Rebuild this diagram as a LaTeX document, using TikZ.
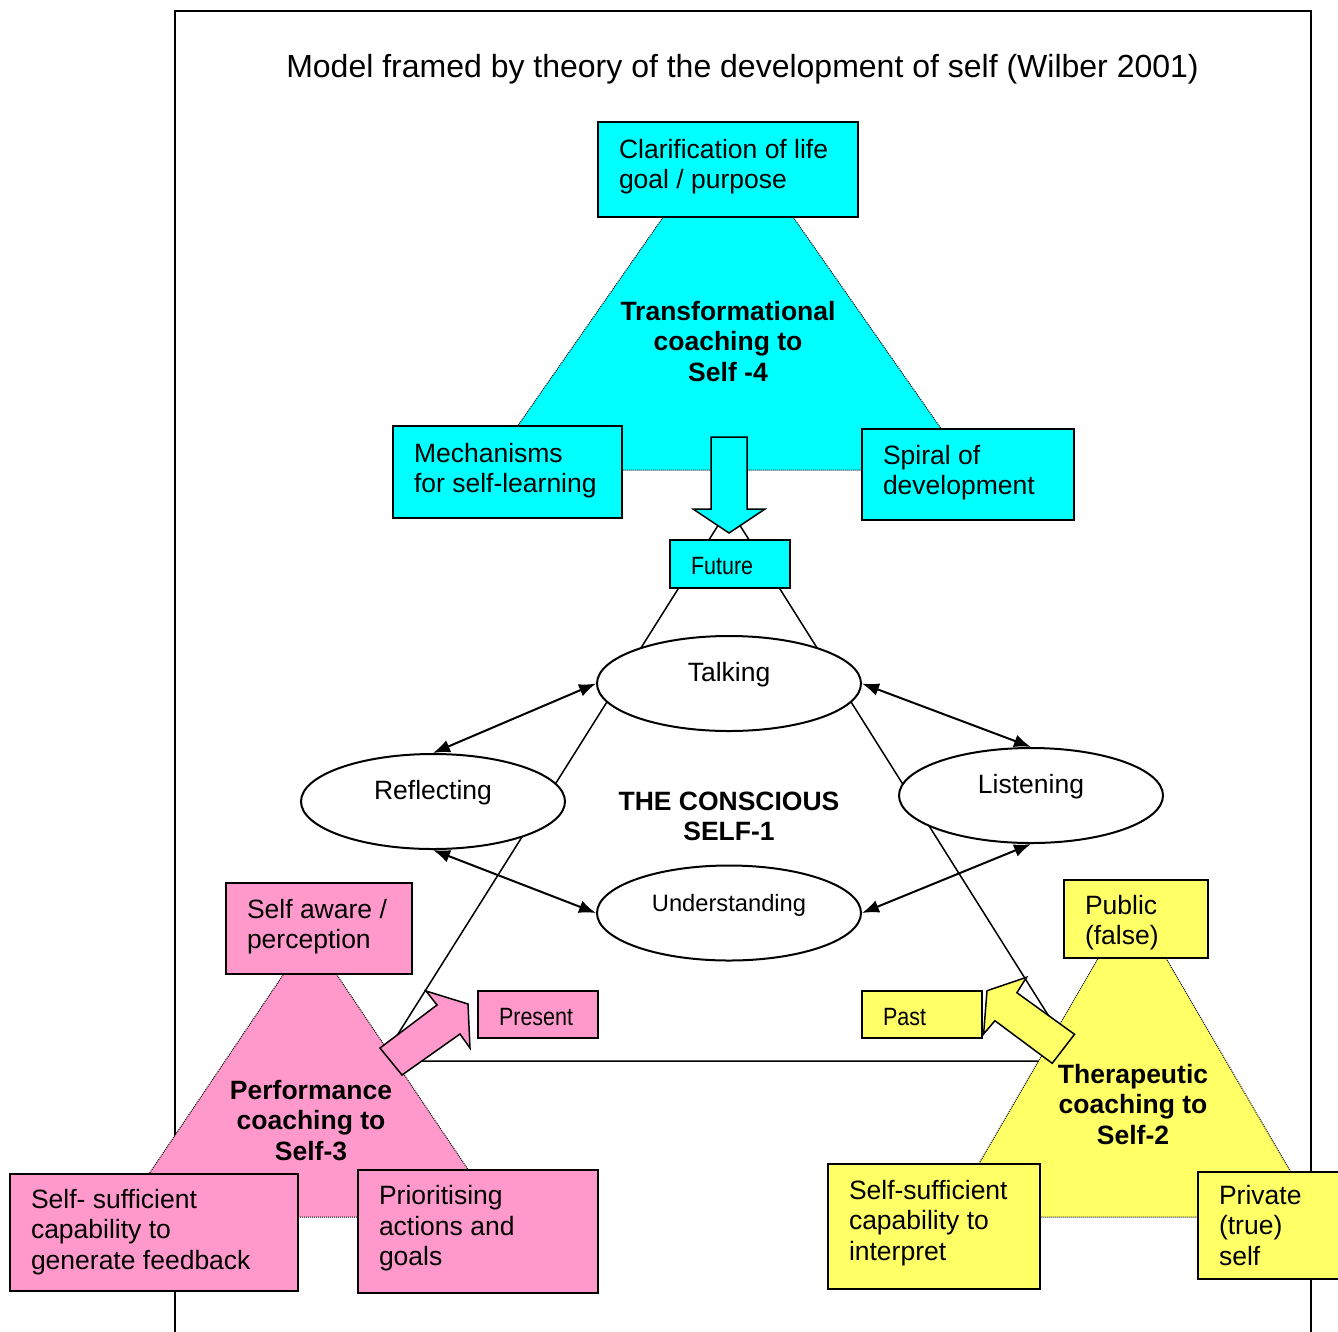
\documentclass[tikz,border=0pt]{standalone}
\usepackage{fontspec}
\setmainfont{Liberation Sans}
\newfontfamily\narrowfont[FakeStretch=0.86]{Liberation Sans}
\usetikzlibrary{shapes.geometric,arrows.meta}
\definecolor{cy}{RGB}{0,255,255}
\definecolor{pk}{RGB}{255,153,204}
\definecolor{yl}{RGB}{255,255,102}
% box text: [first-baseline offset]{box height}{text width}{text}
\newcommand{\bt}[4][35pt]{\parbox[c][#2][t]{#3}{\rule{0pt}{#1}#4}}
\tikzset{
  txt/.style={font=\fontsize{26.5pt}{30.5pt}\selectfont},
  box/.style={draw, line width=2pt, txt, inner xsep=21pt, inner ysep=0pt, anchor=north west},
  nbox/.style={box, font=\narrowfont\fontsize{25pt}{29pt}\selectfont},
  ell/.style={draw, ellipse, line width=2pt, fill=white, minimum width=264pt, minimum height=95pt, inner sep=0pt, txt, text height=8pt, text depth=12pt},
  boldtxt/.style={font=\bfseries\fontsize{26.5pt}{30.5pt}\selectfont, align=center, inner sep=0pt},
  tri/.style={line width=1pt, dash pattern=on 1pt off 1pt},
  bigtri/.style={line width=1.5pt, line join=miter},
  dbl/.style={{Latex[length=17pt,width=13pt]}-{Latex[length=17pt,width=13pt]}, line width=2pt},
  blk/.style={line width=1.5pt, line join=miter},
}
\begin{document}
\begin{tikzpicture}[x=1pt,y=-1pt]
\useasboundingbox (0,0) rectangle (1338,1331);
% frame
\draw[line width=2pt] (175,1345) -- (175,11) -- (1311,11) -- (1311,1345);
% title
\node[font=\fontsize{32pt}{38pt}\selectfont, inner sep=0pt] (title) at (742.5,69) {Model framed by theory of the development of self (Wilber 2001)};
% big triangle
\draw[bigtri] (729,508) -- (381,1061) -- (1077,1061) -- cycle;
% coloured triangles
\draw[tri, fill=cy] (728,124) -- (487,470) -- (970,470) -- cycle;
\draw[tri, fill=pk] (310,935) -- (120,1217) -- (500,1217) -- cycle;
\draw[tri, fill=yl] (1132,900) -- (948,1217) -- (1317,1217) -- cycle;
% ellipses
\node[ell] (talk) at (729,683.5) {Talking};
\node[ell] (refl) at (433,801.5) {Reflecting};
\node[ell] (list) at (1031,795.5) {Listening};
\node[ell, font=\fontsize{23.7pt}{28pt}\selectfont] (und) at (729,913) {Understanding};
% double arrows
\draw[dbl] (talk.west) -- (refl.north);
\draw[dbl] (talk.east) -- (list.north);
\draw[dbl] (refl.south) -- (und.west);
\draw[dbl] (list.south) -- (und.east);
% block arrows
\draw[blk, fill=cy] (711,437) -- (747,437) -- (747,509) -- (765,509) -- (729,533) -- (693,509) -- (711,509) -- cycle;
\draw[blk, fill=pk] (380,1048) -- (437,1005) -- (426,991) -- (468,1004) -- (470,1048) -- (460,1034) -- (402,1075) -- cycle;
\draw[blk, fill=yl] (1074.5,1034.3) -- (1016.9,992.7) -- (1026.5,977.3) -- (987,990.7) -- (983.6,1034) -- (994.9,1020.7) -- (1052.2,1063.3) -- cycle;
% boxes
\node[box, fill=cy] (clar) at (597,121) {\bt[36pt]{95pt}{218pt}{Clarification of life\\goal / purpose}};
\node[box, fill=cy] (mech) at (392,425) {\bt[36pt]{92pt}{187pt}{Mechanisms\\for self-learning}};
\node[box, fill=cy] (spiral) at (861,428) {\bt{91pt}{170pt}{Spiral of\\development}};
\node[nbox, fill=cy] (future) at (669,539) {\bt[34.5pt]{48pt}{78pt}{Future}};
\node[box, fill=pk] (aware) at (225,882) {\bt{91pt}{144pt}{Self aware /\\perception}};
\node[box, fill=pk] (feedback) at (9,1173) {\bt[34pt]{117pt}{246pt}{Self- sufficient\\capability to\\generate feedback}};
\node[box, fill=pk] (prior) at (357,1169) {\bt[34.5pt]{123pt}{198pt}{Prioritising\\actions and\\goals}};
\node[nbox, fill=pk] (present) at (477,990) {\bt[34.5pt]{47pt}{78pt}{Present}};
\node[box, fill=yl] (public) at (1063,879) {\bt[34pt]{78pt}{102pt}{Public\\(false)}};
\node[box, fill=yl] (interp) at (827,1163) {\bt{125pt}{170pt}{Self-sufficient\\capability to\\interpret}};
\node[box, fill=yl] (private) at (1197,1171) {\bt[32pt]{107pt}{106pt}{Private\\(true)\\self}};
\node[nbox, fill=yl] (past) at (861,990) {\bt[34.5pt]{47pt}{78pt}{Past}};
% bold labels
\node[boldtxt] (trans) at (728,341.5) {Transformational\\coaching to\\Self -4};
\node[boldtxt] (consc) at (729,816.5) {THE CONSCIOUS\\SELF-1};
\node[boldtxt] (perf) at (311,1120.5) {Performance\\coaching to\\Self-3};
\node[boldtxt] (ther) at (1133,1104.5) {Therapeutic\\coaching to\\Self-2};
\end{tikzpicture}
\end{document}
